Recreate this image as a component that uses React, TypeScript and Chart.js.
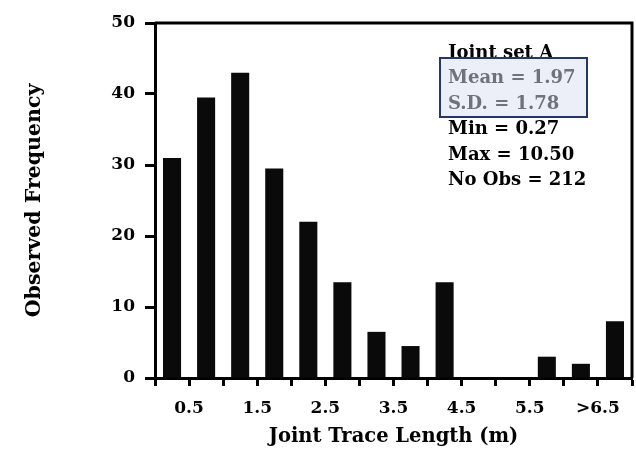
import React, { useEffect, useRef } from "react";
import { Chart, registerables } from "chart.js";

Chart.register(...registerables);

// Joint trace length histogram (0.5 m bins), joint set A
const binMids = [0.25, 0.75, 1.25, 1.75, 2.25, 2.75, 3.25, 3.75, 4.25, 4.75, 5.25, 5.75, 6.25, 6.75];
const frequencies = [31, 39.5, 43, 29.5, 22, 13.5, 6.5, 4.5, 13.5, 0, 0, 3, 2, 8];

const xTickValues = [0, 0.5, 1, 1.5, 2, 2.5, 3, 3.5, 4, 4.5, 5, 5.5, 6, 6.5, 7];
const xLabelValues = [0.5, 1.5, 2.5, 3.5, 4.5, 5.5, 6.5];
const xLabelTexts = ["0.5", "1.5", "2.5", "3.5", "4.5", "5.5", ">6.5"];

const yTickValues = [0, 10, 20, 30, 40, 50];

const statsTitle = "Joint set A";
const statsHighlighted = ["Mean = 1.97", "S.D. = 1.78"];
const statsPlain = ["Min = 0.27", "Max = 10.50", "No Obs = 212"];

const FONT = "'DejaVu Serif', serif";

const framePlugin = {
  id: "frame",
  afterDraw(chart: any) {
    const { ctx, chartArea } = chart;
    ctx.save();
    ctx.strokeStyle = "#000";
    ctx.lineWidth = 3;
    ctx.beginPath();
    ctx.moveTo(chartArea.left, chartArea.top);
    ctx.lineTo(chartArea.right, chartArea.top);
    ctx.lineTo(chartArea.right, chartArea.bottom);
    ctx.stroke();
    ctx.restore();
  },
};

const statsPlugin = {
  id: "stats",
  afterDraw(chart: any) {
    const { ctx, chartArea } = chart;
    const x = chartArea.left + 293;
    const y0 = chartArea.top + 35;
    const step = 25.4;
    ctx.save();
    ctx.font = `bold 18px ${FONT}`;
    ctx.textBaseline = "alphabetic";
    ctx.textAlign = "left";

    ctx.fillStyle = "#000";
    ctx.fillText(statsTitle, x, y0);

    // highlight box around mean / sd
    const bx = x - 8;
    const by = y0;
    const bw = 147;
    const bh = 59;
    ctx.fillStyle = "#eceff7";
    ctx.fillRect(bx, by, bw, bh);
    ctx.strokeStyle = "#22386a";
    ctx.lineWidth = 2;
    ctx.strokeRect(bx, by, bw, bh);

    ctx.fillStyle = "#6f7278";
    statsHighlighted.forEach((t, i) => ctx.fillText(t, x, y0 + step * (i + 1)));

    ctx.fillStyle = "#000";
    statsPlain.forEach((t, i) => ctx.fillText(t, x, y0 + step * (i + 3)));
    ctx.restore();
  },
};

export default function App() {
  const canvasRef = useRef<HTMLCanvasElement | null>(null);

  useEffect(() => {
    if (!canvasRef.current) return;
    const chart = new Chart(canvasRef.current, {
      type: "bar",
      data: {
        datasets: [
          {
            data: binMids.map((m, i) => ({ x: m, y: frequencies[i] })),
            backgroundColor: "#0a0a0a",
            borderWidth: 0,
            barPercentage: 0.53,
            categoryPercentage: 1,
          },
        ],
      },
      options: {
        responsive: false,
        animation: false,
        layout: { padding: { top: 23, right: 4, left: 0, bottom: 0 } },
        plugins: {
          legend: { display: false },
          tooltip: { enabled: false },
        },
        scales: {
          x: {
            type: "linear",
            min: 0,
            max: 7,
            offset: false,
            afterBuildTicks: (scale: any) => {
              scale.ticks = xTickValues.map((v) => ({ value: v }));
            },
            afterFit: (scale: any) => {
              scale.height = 79;
              scale.paddingLeft = 0;
              scale.paddingRight = 0;
            },
            ticks: {
              autoSkip: false,
              maxRotation: 0,
              minRotation: 0,
              padding: 12,
              color: "#000",
              font: { family: FONT, size: 17, weight: "bold" },
              callback: (v: any) => {
                const idx = xLabelValues.indexOf(Number(v));
                return idx >= 0 ? xLabelTexts[idx] : "";
              },
            },
            grid: {
              offset: false,
              drawOnChartArea: false,
              drawTicks: true,
              tickLength: 8,
              tickWidth: 3,
              tickColor: "#000",
            },
            border: { display: true, color: "#000", width: 3 },
            title: {
              display: true,
              text: "Joint Trace Length (m)",
              color: "#000",
              font: { family: FONT, size: 19.5, weight: "bold" },
              padding: { top: 0, bottom: 8 },
            },
          },
          y: {
            min: 0,
            max: 50,
            afterBuildTicks: (scale: any) => {
              scale.ticks = yTickValues.map((v) => ({ value: v }));
            },
            afterFit: (scale: any) => {
              scale.width = 155;
            },
            ticks: {
              padding: 10,
              color: "#000",
              font: { family: FONT, size: 17, weight: "bold" },
            },
            grid: {
              drawOnChartArea: false,
              drawTicks: true,
              tickLength: 10,
              tickWidth: 3,
              tickColor: "#000",
            },
            border: { display: true, color: "#000", width: 3 },
            title: {
              display: true,
              text: "Observed Frequency",
              color: "#000",
              font: { family: FONT, size: 20.5, weight: "bold" },
              padding: { top: 22, bottom: 0 },
            },
          },
        },
      },
      plugins: [framePlugin, statsPlugin],
    } as any);
    return () => chart.destroy();
  }, []);

  return (
    <div style={{ position: "absolute", left: 0, top: 0, width: 636, height: 457, background: "#fff" }}>
      <canvas ref={canvasRef} width={636} height={457} />
    </div>
  );
}
